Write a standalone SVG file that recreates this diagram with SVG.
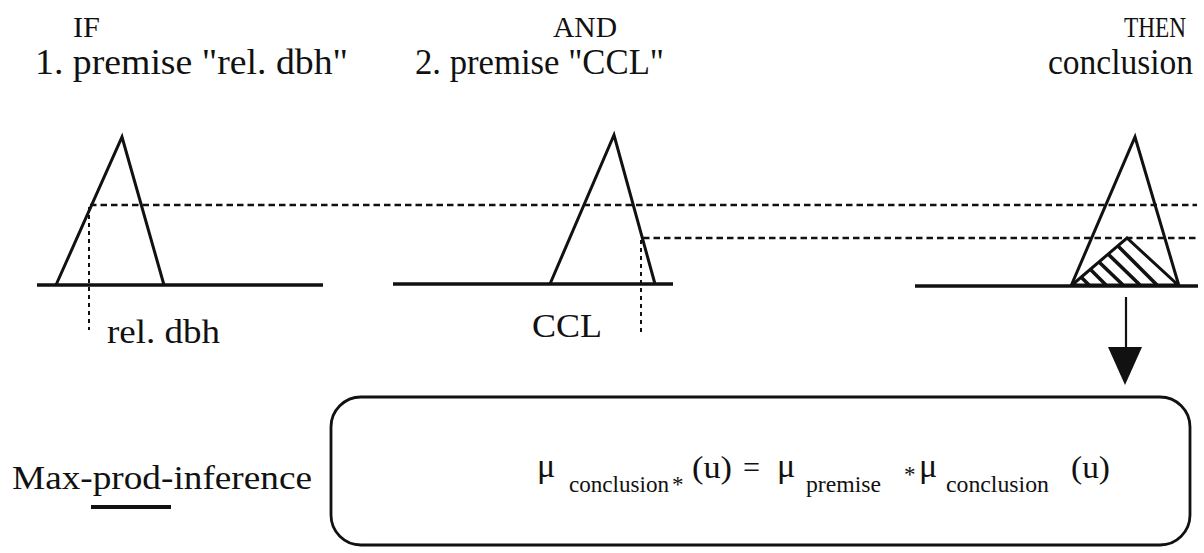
<svg xmlns="http://www.w3.org/2000/svg" width="1204" height="553" viewBox="0 0 1204 553" font-family="'Liberation Serif','Times New Roman',serif">
<style>
text{font-family:"Liberation Serif","Times New Roman",serif;fill:#111}
.h1{font-size:30px}
.h2{font-size:36px}
.lbl{font-size:33px}
.mu{font-size:34px}
.par{font-size:32px}
.sub{font-size:23px}
.solid{stroke:#111;stroke-width:3;fill:none;stroke-linejoin:miter}
.base{stroke:#111;stroke-width:3.5;fill:none}
.dash{stroke:#111;stroke-width:2.6;stroke-dasharray:6.5 4;fill:none}
.vdash{stroke:#111;stroke-width:2;stroke-dasharray:4 4;fill:none}
.hatch{stroke:#111;stroke-width:3.6;fill:none}
</style>
<rect width="1204" height="553" fill="#fff"/>

<g id="header">
<text class="h1" x="73" y="37" textLength="27" lengthAdjust="spacingAndGlyphs">IF</text>
<text class="h2" x="35" y="74" textLength="313" lengthAdjust="spacingAndGlyphs">1. premise "rel. dbh"</text>
<text class="h1" x="553" y="37" textLength="64" lengthAdjust="spacingAndGlyphs">AND</text>
<text class="h2" x="415" y="74" textLength="249" lengthAdjust="spacingAndGlyphs">2. premise "CCL"</text>
<text class="h1" x="1124" y="37" textLength="62" lengthAdjust="spacingAndGlyphs">THEN</text>
<text class="h2" x="1048" y="74" textLength="145" lengthAdjust="spacingAndGlyphs">conclusion</text>
</g>

<g id="premise1">
<line class="base" x1="37" y1="285" x2="323" y2="285"/>
<polyline class="solid" points="56,285 122,137 164,285"/>
<text class="lbl" x="107" y="343" textLength="113" lengthAdjust="spacingAndGlyphs">rel. dbh</text>
</g>

<g id="premise2">
<line class="base" x1="393" y1="284" x2="673" y2="284"/>
<polyline class="solid" points="550,284 614,135 655,284"/>
<text class="lbl" x="532" y="337" textLength="70" lengthAdjust="spacingAndGlyphs">CCL</text>
</g>

<g id="conclusion">
<line class="base" x1="915" y1="286" x2="1198" y2="286"/>
<polyline class="solid" points="1071,286 1135,137 1179,286"/>
<polygon class="solid" points="1072,285 1127,238 1178,285"/>
<line class="hatch" x1="1081" y1="277" x2="1089" y2="285"/>
<line class="hatch" x1="1090" y1="269" x2="1106" y2="285"/>
<line class="hatch" x1="1099" y1="262" x2="1123" y2="285"/>
<line class="hatch" x1="1108" y1="254" x2="1140" y2="285"/>
<line class="hatch" x1="1118" y1="246" x2="1157" y2="285"/>
</g>

<g id="connectors">
<polyline class="dash" points="90,205 1197,205"/>
<polyline class="dash" points="643,238 1197,238"/>
<line class="vdash" x1="89" y1="207" x2="89" y2="330"/>
<line class="vdash" x1="641" y1="240" x2="641" y2="332"/>
<line x1="1126" y1="297" x2="1126" y2="350" stroke="#111" stroke-width="2.2"/>
<polygon points="1108,347 1142,347 1125,385" fill="#111"/>
</g>

<g id="inference-label">
<text x="12" y="489" style="font-size:33px" textLength="300" lengthAdjust="spacingAndGlyphs">Max-prod-inference</text>
<rect x="91" y="505" width="80" height="4" fill="#111"/>
</g>

<g id="formula-box">
<rect x="331" y="397" width="859" height="148" rx="30" ry="30" fill="none" stroke="#111" stroke-width="2.8"/>
<text class="mu" x="537" y="477">μ</text>
<text class="sub" x="569" y="492" textLength="100" lengthAdjust="spacingAndGlyphs">conclusion</text>
<text class="sub" x="672" y="492">*</text>
<text class="par" x="692" y="478" textLength="40" lengthAdjust="spacingAndGlyphs">(u)</text>
<text class="par" x="743" y="478" textLength="17" lengthAdjust="spacingAndGlyphs">=</text>
<text class="mu" x="777" y="477">μ</text>
<text class="sub" x="806" y="492" textLength="75" lengthAdjust="spacingAndGlyphs">premise</text>
<text class="sub" x="904" y="482">*</text>
<text class="mu" x="919" y="477">μ</text>
<text class="sub" x="946" y="492" textLength="103" lengthAdjust="spacingAndGlyphs">conclusion</text>
<text class="par" x="1071" y="478" textLength="39" lengthAdjust="spacingAndGlyphs">(u)</text>
</g>
</svg>
